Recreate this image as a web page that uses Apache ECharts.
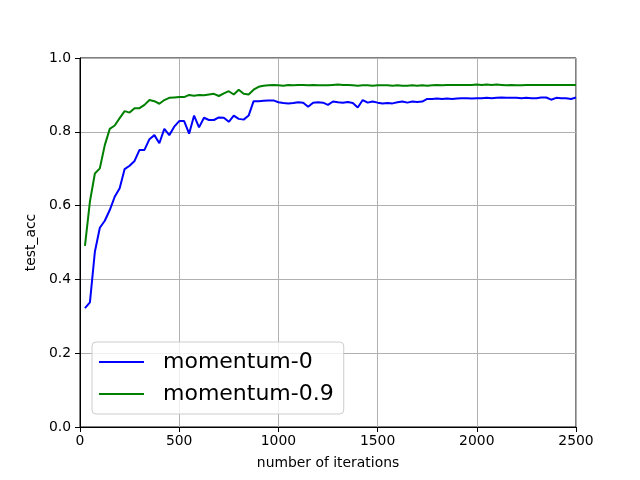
<!DOCTYPE html>
<html><head><meta charset="utf-8">
<script src="https://cdn.jsdelivr.net/npm/echarts@6/dist/echarts.min.js"></script>
<style>html,body{margin:0;padding:0;background:#fff}#c{width:640px;height:480px}</style>
</head><body><div id="c"></div>
<script>
const iterations = [25,50,75,100,125,150,175,200,225,250,275,300,325,350,375,400,425,450,475,500,
525,550,575,600,625,650,675,700,725,750,775,800,825,850,875,900,925,950,975,1000,
1025,1050,1075,1100,1125,1150,1175,1200,1225,1250,1275,1300,1325,1350,1375,1400,1425,1450,1475,1500,
1525,1550,1575,1600,1625,1650,1675,1700,1725,1750,1775,1800,1825,1850,1875,1900,1925,1950,1975,2000,
2025,2050,2075,2100,2125,2150,2175,2200,2225,2250,2275,2300,2325,2350,2375,2400,2425,2450,2475,2500];
const momentum0 = [0.322,0.338,0.475,0.540,0.559,0.588,0.624,0.647,0.699,0.708,0.721,0.751,0.751,0.780,0.791,0.769,0.808,0.791,0.814,0.829,
0.829,0.795,0.844,0.812,0.838,0.832,0.832,0.839,0.838,0.827,0.844,0.835,0.833,0.844,0.883,0.883,0.884,0.885,0.885,0.880,
0.878,0.877,0.878,0.880,0.879,0.868,0.879,0.880,0.879,0.873,0.882,0.880,0.879,0.881,0.878,0.866,0.886,0.879,0.882,0.879,
0.877,0.878,0.877,0.880,0.882,0.879,0.882,0.881,0.882,0.889,0.889,0.890,0.889,0.890,0.889,0.890,0.891,0.891,0.890,0.891,
0.891,0.892,0.891,0.892,0.893,0.892,0.892,0.892,0.891,0.892,0.891,0.891,0.893,0.893,0.887,0.892,0.891,0.891,0.889,0.893];
const momentum09 = [0.491,0.611,0.687,0.701,0.764,0.808,0.817,0.837,0.856,0.852,0.864,0.864,0.873,0.886,0.883,0.876,0.886,0.892,0.893,0.894,
0.894,0.900,0.898,0.900,0.899,0.901,0.903,0.897,0.904,0.910,0.901,0.914,0.903,0.901,0.914,0.922,0.925,0.926,0.927,0.926,
0.925,0.927,0.926,0.927,0.927,0.926,0.927,0.926,0.926,0.926,0.927,0.928,0.927,0.927,0.926,0.925,0.926,0.926,0.925,0.926,
0.926,0.926,0.925,0.926,0.925,0.925,0.926,0.925,0.926,0.925,0.926,0.927,0.926,0.927,0.927,0.927,0.927,0.927,0.927,0.928,
0.927,0.928,0.927,0.928,0.927,0.926,0.927,0.926,0.926,0.927,0.927,0.927,0.927,0.927,0.927,0.927,0.927,0.927,0.927,0.927];
const seriesNames = ['momentum-0','momentum-0.9'];
const xTicks = {min:0,max:2500,interval:500};
const yTicks = {min:0,max:1,interval:0.2};

const font = 'DejaVu Sans';
const chart = echarts.init(document.getElementById('c'), null, {renderer:'canvas'});
const pair = (ys) => iterations.map((x,i)=>[x, ys[i]]);
chart.setOption({
  animation:false,
  backgroundColor:'#fff',
  grid:{left:80,right:64,top:58,bottom:53,show:true,borderColor:'#000',borderWidth:1,backgroundColor:'transparent'},
  legend:{
    orient:'vertical', left:92, top:342,
    data:seriesNames,
    icon:'rect', itemWidth:45, itemHeight:2, itemGap:10,
    padding:[9,10,9,7],
    backgroundColor:'rgba(255,255,255,0.8)', borderColor:'#cccccc', borderWidth:1, borderRadius:4,
    textStyle:{fontFamily:font,fontSize:22,color:'#000',lineHeight:22,padding:[0,0,0,14]}
  },
  xAxis:{type:'value',min:xTicks.min,max:xTicks.max,interval:xTicks.interval,
    name:'number of iterations',nameLocation:'middle',nameGap:29,
    nameTextStyle:{fontFamily:font,fontSize:13.9,color:'#000'},
    axisLine:{show:true,lineStyle:{color:'#000',width:1}},
    axisTick:{show:true,length:5,lineStyle:{color:'#000',width:1}},
    axisLabel:{fontFamily:font,fontSize:13.9,color:'#000',margin:7,formatter:v=>String(v)},
    splitLine:{show:true,lineStyle:{color:'#b0b0b0',width:1}}},
  yAxis:{type:'value',min:yTicks.min,max:yTicks.max,interval:yTicks.interval,
    name:'test_acc',nameLocation:'middle',nameGap:35,
    nameTextStyle:{fontFamily:font,fontSize:13.9,color:'#000'},
    axisLine:{show:true,lineStyle:{color:'#000',width:1}},
    axisTick:{show:true,length:5,lineStyle:{color:'#000',width:1}},
    axisLabel:{fontFamily:font,fontSize:13.9,color:'#000',margin:9,formatter:v=>v.toFixed(1)},
    splitLine:{show:true,lineStyle:{color:'#b0b0b0',width:1}}},
  series:[
    {name:seriesNames[0],type:'line',data:pair(momentum0),showSymbol:false,lineStyle:{color:'#0000ff',width:2},itemStyle:{color:'#0000ff'},z:3},
    {name:seriesNames[1],type:'line',data:pair(momentum09),showSymbol:false,lineStyle:{color:'#008000',width:2},itemStyle:{color:'#008000'},z:4}
  ]
});
</script></body></html>
